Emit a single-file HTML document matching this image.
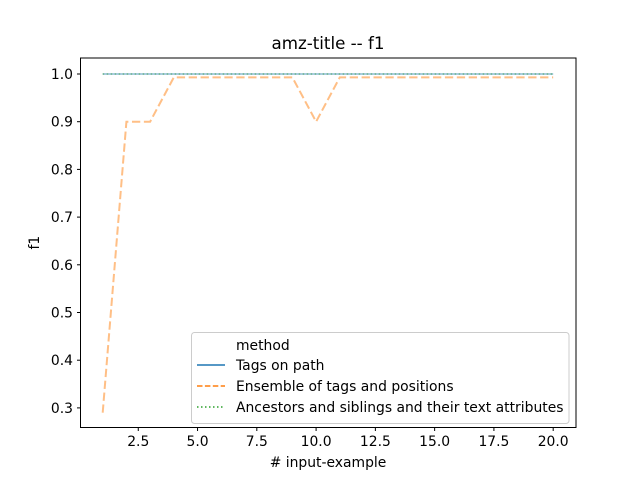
<!DOCTYPE html>
<html><head><meta charset="utf-8"><style>
body{margin:0;background:#fff;}
svg text{font-family:"DejaVu Sans","Liberation Sans",sans-serif;fill:#000;}
</style></head><body>
<svg width="640" height="480" xmlns="http://www.w3.org/2000/svg">
<rect width="640" height="480" fill="#fff"/>
<text x="328" y="49" text-anchor="middle" font-size="16.7">amz-title -- f1</text>
<g id="series"></g>
<rect x="80.5" y="58" width="495.5" height="369.5" fill="none" stroke="#000" stroke-width="1"/>
<g id="xt"></g><g id="yt"></g>
<text x="328" y="467" text-anchor="middle" font-size="13.9"># input-example</text>
<text transform="translate(39,242.7) rotate(-90)" text-anchor="middle" font-size="13.9">f1</text>
<g>
<rect x="191.5" y="332.5" width="377.5" height="91" rx="3" fill="#fff" fill-opacity="0.8" stroke="#ccc"/>
<text x="236" y="350" font-size="13.9">method</text>
<line x1="197" y1="365" x2="225" y2="365" stroke="#1f77b4" stroke-width="1.5"/>
<text x="236" y="370" font-size="13.9">Tags on path</text>
<line x1="197" y1="386" x2="225" y2="386" stroke="#ff7f0e" stroke-width="1.5" stroke-dasharray="5.5,2.4"/>
<text x="236" y="391" font-size="13.9">Ensemble of tags and positions</text>
<line x1="197" y1="407" x2="225" y2="407" stroke="#2ca02c" stroke-width="1.5" stroke-dasharray="1.5,2.5"/>
<text x="236" y="412" font-size="13.9">Ancestors and siblings and their text attributes</text>
</g>
</svg>
<script>
const xValues=[1,2,3,4,5,6,7,8,9,10,11,12,13,14,15,16,17,18,19,20];
const tagsOnPath=[1,1,1,1,1,1,1,1,1,1,1,1,1,1,1,1,1,1,1,1];
const ensemble=[0.29,0.9,0.9,0.993,0.993,0.993,0.993,0.993,0.993,0.9,0.993,0.993,0.993,0.993,0.993,0.993,0.993,0.993,0.993,0.993];
const ancestors=[1,1,1,1,1,1,1,1,1,1,1,1,1,1,1,1,1,1,1,1];
const xTicks=[2.5,5.0,7.5,10.0,12.5,15.0,17.5,20.0];
const yTicks=[0.3,0.4,0.5,0.6,0.7,0.8,0.9,1.0];
const NS="http://www.w3.org/2000/svg";
function xs(v){return 102.7+(v-1)*23.71;}
function ys(v){return 74+(1-v)*477;}
function mk(t,a,p){const e=document.createElementNS(NS,t);for(const k in a)e.setAttribute(k,a[k]);p.appendChild(e);return e;}
const xt=document.getElementById('xt'),yt=document.getElementById('yt'),se=document.getElementById('series');
xTicks.forEach(v=>{const x=xs(v);
 const l=mk('line',{x1:x,x2:x,y1:427.5,y2:431,stroke:'#000'},xt);
 
 
 const t=mk('text',{x:x,y:446,'text-anchor':'middle','font-size':'13.9'},xt);t.textContent=v.toFixed(1);
 
 });
yTicks.forEach(v=>{const y=ys(v);
 const l=mk('line',{x1:77,x2:80.5,y1:y,y2:y,stroke:'#000'},yt);
 
 
 const t=mk('text',{x:73,y:y+5,'text-anchor':'end','font-size':'13.9'},yt);t.textContent=v.toFixed(1);
 
 });
function pts(arr){return arr.map((v,i)=>xs(xValues[i])+','+ys(v)).join(' ');}
const s1=mk('polyline',{points:pts(tagsOnPath),fill:'none',stroke:'#1f77b4','stroke-width':1.5,'stroke-opacity':0.5},se);


const s2=mk('polyline',{points:pts(ensemble),fill:'none',stroke:'#ff7f0e','stroke-width':2,'stroke-opacity':0.5,'stroke-dasharray':'8.3,3.6'},se);


const s3=mk('polyline',{points:pts(ancestors),fill:'none',stroke:'#2ca02c','stroke-width':1.5,'stroke-opacity':0.5,'stroke-dasharray':'1.5,2.5'},se);


</script>
</body></html>
